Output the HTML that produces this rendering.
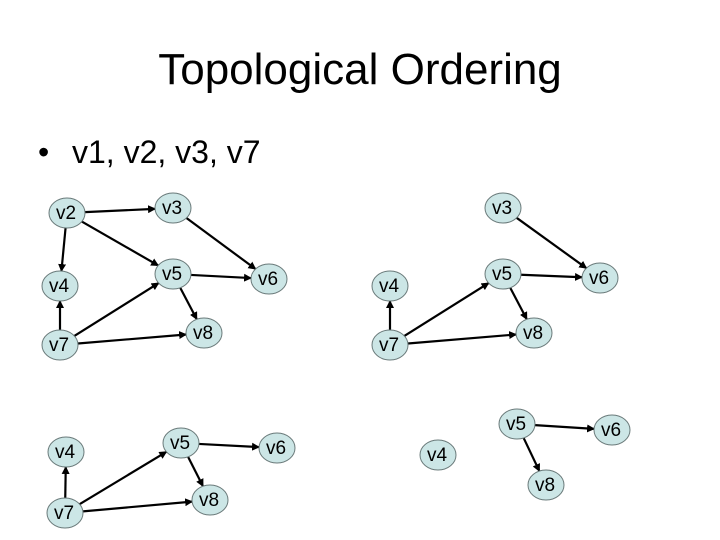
<!DOCTYPE html>
<html><head><meta charset="utf-8"><style>
html,body{margin:0;padding:0;background:#fff;width:720px;height:540px;overflow:hidden}
svg{display:block}
text{font-family:"Liberation Sans",Arial,sans-serif}
</style></head><body>
<svg id="s" width="720" height="540" viewBox="0 0 720 540" xmlns="http://www.w3.org/2000/svg">
<defs><marker id="a" markerWidth="8" markerHeight="8" refX="7" refY="4" orient="auto" markerUnits="userSpaceOnUse"><path d="M0,0 L8,4 L0,8 z" fill="#000"/></marker></defs>
<text x="360" y="84" font-size="44" text-anchor="middle">Topological Ordering</text>
<text x="38" y="163" font-size="32">•</text>
<text x="72" y="163" font-size="32">v1, v2, v3, v7</text>
<g id="e" stroke="#000" stroke-width="2.2" fill="none"></g>
<g id="n"></g>
</svg>
<script>
var G=[
 {n:{v2:[67,213],v3:[173,208],v5:[173,274],v6:[269,279],v4:[60,286],v7:[60,345],v8:[204,333]},
  e:[["v2","v3"],["v2","v5"],["v2","v4"],["v3","v6"],["v5","v6"],["v5","v8"],["v7","v4"],["v7","v5"],["v7","v8"]]},
 {n:{v3:[503,208],v5:[503,274],v6:[600,278],v4:[390,286],v7:[390,345],v8:[534,333]},
  e:[["v3","v6"],["v5","v6"],["v5","v8"],["v7","v4"],["v7","v5"],["v7","v8"]]},
 {n:{v4:[66,452],v5:[181,443],v6:[277,448],v7:[65,513],v8:[210,500]},
  e:[["v5","v6"],["v5","v8"],["v7","v4"],["v7","v5"],["v7","v8"]]},
 {n:{v5:[517,424],v6:[612,430],v4:[438,455],v8:[546,485]},
  e:[["v5","v6"],["v5","v8"]]}
];
var NS="http://www.w3.org/2000/svg",E=document.getElementById("e"),N=document.getElementById("n");
var RX=18,RY=15;
function t(dx,dy){return 1/Math.sqrt(dx*dx/(RX*RX)+dy*dy/(RY*RY));}
G.forEach(function(g){
 g.e.forEach(function(p){
  var a=g.n[p[0]],b=g.n[p[1]],dx=b[0]-a[0],dy=b[1]-a[1];
  var ta=t(dx,dy),tb=t(dx,dy);
  var l=document.createElementNS(NS,"line");
  l.setAttribute("x1",a[0]+dx*ta);l.setAttribute("y1",a[1]+dy*ta);
  l.setAttribute("x2",b[0]-dx*tb);l.setAttribute("y2",b[1]-dy*tb);
  l.setAttribute("marker-end","url(#a)");E.appendChild(l);
 });
 for(var k in g.n){var c=g.n[k];
  var el=document.createElementNS(NS,"ellipse");
  el.setAttribute("cx",c[0]);el.setAttribute("cy",c[1]);el.setAttribute("rx",RX);el.setAttribute("ry",RY);
  el.setAttribute("fill","#cce6e6");el.setAttribute("stroke","#6a7a7a");el.setAttribute("stroke-width","1");N.appendChild(el);
  var tx=document.createElementNS(NS,"text");tx.setAttribute("x",c[0]-1);tx.setAttribute("y",c[1]+6);
  tx.setAttribute("font-size","19");tx.setAttribute("text-anchor","middle");tx.textContent=k;N.appendChild(tx);
 }
});
</script>
</body></html>
